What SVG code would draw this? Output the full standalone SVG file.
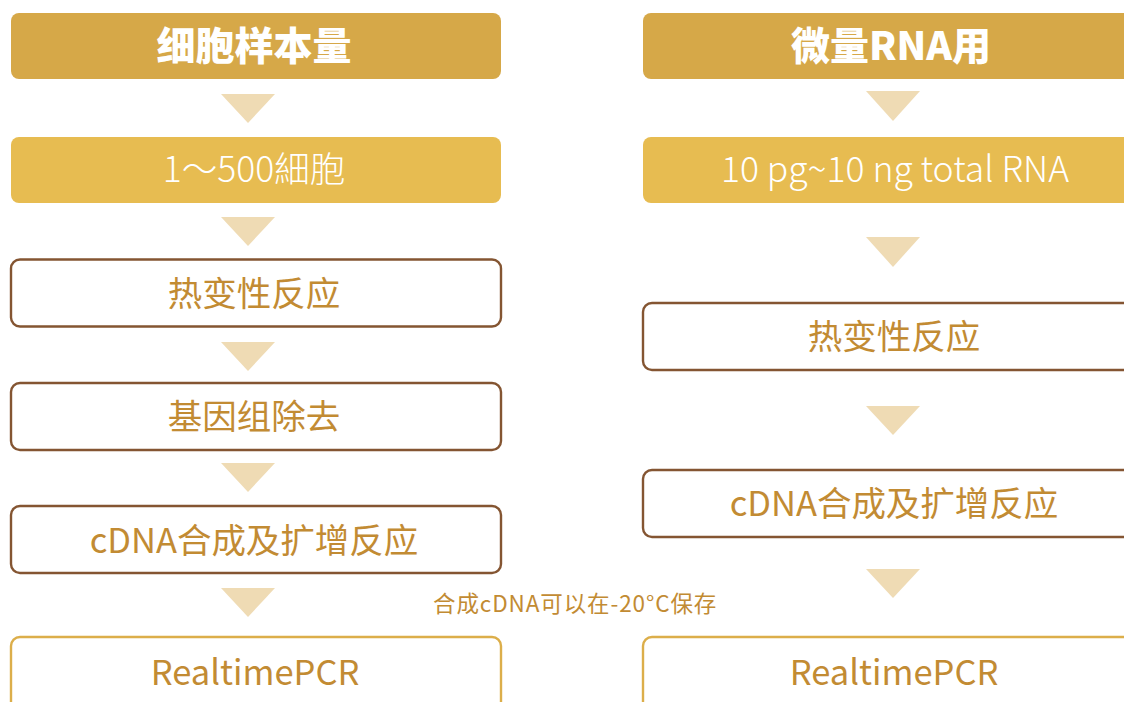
<svg xmlns="http://www.w3.org/2000/svg" width="1124" height="702" viewBox="0 0 1124 702">
<defs>
<style>
.hdr{fill:#d6a848}
.sub{fill:#e7bc51}
.out{fill:#ffffff;stroke:#845532;stroke-width:2.4}
.gold{fill:#ffffff;stroke:#dcae4a;stroke-width:2.4}
.tri{fill:#efdbb4}
.th{font-family:"Noto Sans CJK SC","Noto Sans",sans-serif;font-weight:900;font-size:39px;fill:#ffffff;text-anchor:middle}
.tw{font-family:"Noto Sans CJK SC","Noto Sans",sans-serif;font-weight:300;font-size:35.5px;fill:#ffffff;text-anchor:middle}
.tb{font-family:"Noto Sans CJK SC","Noto Sans",sans-serif;font-weight:400;font-size:34.5px;fill:#c28b33;text-anchor:middle}
.tl{font-family:"Noto Sans CJK SC","Noto Sans",sans-serif;font-weight:400;font-size:22.5px;letter-spacing:0.9px;fill:#c28b33}
</style>
</defs>
<rect width="1124" height="702" fill="#ffffff"/>
<g id="left-header"><rect class="hdr" x="11" y="13" width="490" height="66" rx="8"/><text class="th" x="254" y="60">细胞样本量</text></g>
<g id="left-cells"><rect class="sub" x="11" y="137" width="490" height="66" rx="8"/><text class="tw" x="254" y="182">1～500細胞</text></g>
<g id="left-heat"><rect class="out" x="11" y="259.5" width="490" height="67" rx="9"/><text class="tb" x="254" y="306">热变性反应</text></g>
<g id="left-genome"><rect class="out" x="11" y="383" width="490" height="67" rx="9"/><text class="tb" x="254" y="429">基因组除去</text></g>
<g id="left-cdna"><rect class="out" x="11" y="506" width="490" height="67" rx="9"/><text class="tb" x="254" y="553">cDNA合成及扩增反应</text></g>
<g id="left-pcr"><rect class="gold" x="11" y="637" width="490" height="80" rx="9"/><text class="tb" x="255" y="685">RealtimePCR</text></g>
<g id="right-header"><rect class="hdr" x="643" y="13" width="510" height="66" rx="8"/><text class="th" x="891" y="60">微量RNA用</text></g>
<g id="right-rna"><rect class="sub" x="643" y="137" width="510" height="66" rx="8"/><text class="tw" x="895" y="182">10 pg~10 ng total RNA</text></g>
<g id="right-heat"><rect class="out" x="643" y="303" width="510" height="67" rx="9"/><text class="tb" x="894" y="349">热变性反应</text></g>
<g id="right-cdna"><rect class="out" x="643" y="470" width="510" height="67" rx="9"/><text class="tb" x="894" y="516">cDNA合成及扩增反应</text></g>
<g id="right-pcr"><rect class="gold" x="643" y="637" width="510" height="80" rx="9"/><text class="tb" x="894" y="685">RealtimePCR</text></g>
<g id="note"><text class="tl" x="433" y="612">合成cDNA可以在-20°C保存</text></g>
<g id="connectors">
<polygon class="tri" points="221,94 275,94 248,123"/>
<polygon class="tri" points="221,217 275,217 248,246"/>
<polygon class="tri" points="221,342 275,342 248,371"/>
<polygon class="tri" points="221,463 275,463 248,492"/>
<polygon class="tri" points="221,588 275,588 248,617"/>
<polygon class="tri" points="866,91 920,91 893,121"/>
<polygon class="tri" points="866,237 920,237 893,267"/>
<polygon class="tri" points="866,406 920,406 893,435"/>
<polygon class="tri" points="866,569 920,569 893,598"/>
</g>
</svg>
